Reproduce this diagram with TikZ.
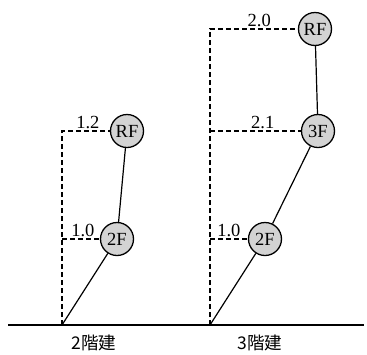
\documentclass[tikz,border=0pt]{standalone}
\usepackage{fontspec}
\setmainfont{Liberation Serif}
\newfontfamily\jpfont{Noto Sans CJK JP}
\usetikzlibrary{positioning}
\definecolor{floorgray}{RGB}{211,211,211}

\begin{document}
\begin{tikzpicture}[
  x=1pt, y=-1pt,
  every node/.style={font=\fontsize{18.5}{20}\selectfont},
  floor/.style={circle, draw, line width=1.3pt, fill=floorgray, minimum size=33pt, inner sep=0pt},
  member/.style={line width=1.2pt},
  level/.style={line width=1.5pt, dash pattern=on 5pt off 3pt},
  ratio/.style={above, inner sep=1.5pt},
  bldg/.style={font=\jpfont\fontsize{17.5}{19}\selectfont},
]
  \useasboundingbox (0,0) rectangle (367,354);

  % 2-storey
  \coordinate (baseA) at (62,325);
  \node[floor] (twoA) at (117,239) {2F};
  \node[floor] (roofA) at (127,131) {RF};
  \draw[level] (baseA) |- node[ratio, pos=0.77]{1.2} (roofA);
  \draw[level] (baseA |- twoA) -- node[ratio, pos=0.55]{1.0} (twoA);
  \draw[member] (baseA) -- (twoA) -- (roofA);
  \node[bldg] (nameA) at (94,343) {2階建};

  % 3-storey
  \coordinate (baseB) at (210,325);
  \node[floor] (twoB) at (265,239) {2F};
  \node[floor] (threeB) at (318,131) {3F};
  \node[floor] (roofB) at (315,29) {RF};
  \draw[level] (baseB) |- node[ratio, pos=0.78]{2.0} (roofB);
  \draw[level] (baseB |- threeB) -- node[ratio, pos=0.58]{2.1} (threeB);
  \draw[level] (baseB |- twoB) -- node[ratio, pos=0.5]{1.0} (twoB);
  \draw[member] (baseB) -- (twoB) -- (threeB) -- (roofB);
  \node[bldg] (nameB) at (260,343) {3階建};

  % ground
  \coordinate (groundL) at (8,325);
  \coordinate (groundR) at (364,325);
  \draw[line width=1.5pt] (groundL) -- (groundR);
\end{tikzpicture}
\end{document}
